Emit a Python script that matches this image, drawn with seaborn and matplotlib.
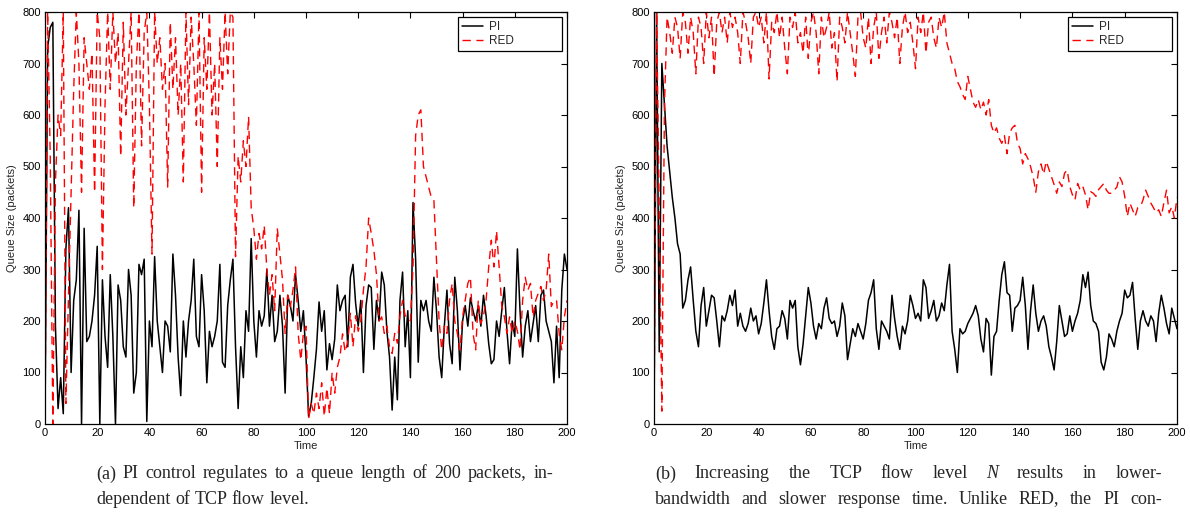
import numpy as np
import pandas as pd
import matplotlib
matplotlib.use("Agg")
import matplotlib.pyplot as plt
import seaborn as sns

# ---------------- data ----------------
time = list(range(0, 201))

pi_a = [0, 730, 770, 780, 190, 30, 90, 20, 340, 420,
        100, 240, 280, 415, 0, 380, 160, 170, 200, 250,
        345, 0, 280, 170, 110, 290, 170, 0, 270, 240,
        150, 130, 300, 250, 60, 100, 310, 290, 320, 5,
        200, 150, 325, 200, 150, 100, 200, 190, 140, 330,
        250, 130, 55, 200, 130, 200, 240, 320, 170, 150,
        290, 220, 80, 180, 150, 170, 200, 310, 120, 110,
        230, 280, 320, 150, 30, 150, 90, 220, 180, 360,
        200, 130, 220, 190, 210, 300, 190, 250, 160, 180,
        250, 190, 60, 250, 230, 200, 290, 240, 180, 220,
        130, 15, 40, 90, 145, 237, 180, 220, 105, 156,
        125, 165, 270, 220, 240, 250, 150, 285, 310, 235,
        190, 240, 100, 230, 270, 265, 145, 240, 200, 295,
        270, 180, 130, 27, 130, 47, 240, 295, 150, 220,
        90, 430, 320, 120, 240, 220, 240, 200, 180, 285,
        220, 130, 90, 190, 260, 156, 117, 285, 220, 105,
        200, 230, 190, 245, 220, 200, 230, 190, 250, 210,
        156, 117, 125, 200, 170, 220, 265, 180, 117, 200,
        170, 340, 220, 130, 190, 220, 160, 195, 230, 160,
        250, 260, 200, 180, 160, 80, 190, 90, 260, 330,
        300]

red_a = [0, 800, 520, 0, 470, 600, 560, 800, 40, 250,
         450, 650, 800, 700, 450, 750, 700, 650, 720, 450,
         800, 750, 300, 620, 800, 650, 800, 700, 760, 520,
         780, 600, 700, 800, 420, 700, 800, 540, 760, 800,
         620, 330, 800, 700, 750, 650, 700, 460, 780, 650,
         750, 600, 700, 470, 800, 620, 790, 700, 580, 800,
         450, 750, 650, 800, 600, 700, 500, 750, 650, 800,
         680, 800, 790, 325, 520, 470, 550, 500, 597, 420,
         380, 320, 370, 340, 385, 300, 250, 290, 220, 380,
         330, 280, 176, 250, 228, 260, 305, 176, 124, 176,
         190, 10, 40, 20, 60, 30, 80, 15, 70, 20,
         100, 60, 110, 130, 175, 140, 160, 215, 150, 210,
         180, 200, 260, 305, 400, 370, 338, 290, 200, 208,
         176, 190, 150, 137, 176, 157, 210, 240, 210, 208,
         200, 305, 560, 600, 610, 500, 480, 460, 440, 435,
         318, 200, 144, 190, 176, 240, 273, 200, 176, 144,
         208, 240, 273, 285, 176, 144, 240, 195, 210, 240,
         305, 357, 305, 375, 305, 230, 208, 176, 208, 176,
         200, 180, 144, 240, 285, 260, 273, 208, 240, 254,
         267, 240, 260, 330, 228, 240, 240, 176, 144, 208,
         240]

pi_b = [0, 800, 140, 700, 620, 540, 490, 440, 400, 350,
        330, 225, 240, 280, 305, 240, 180, 150, 230, 265,
        190, 220, 250, 245, 200, 150, 210, 200, 220, 250,
        230, 260, 190, 215, 190, 180, 195, 225, 200, 210,
        175, 195, 235, 280, 220, 170, 145, 185, 190, 220,
        205, 165, 240, 225, 240, 150, 115, 155, 210, 265,
        235, 190, 165, 195, 185, 225, 245, 205, 195, 200,
        170, 190, 235, 210, 125, 155, 185, 170, 195, 180,
        165, 195, 240, 255, 280, 185, 145, 200, 190, 180,
        165, 250, 205, 170, 145, 190, 175, 200, 250, 230,
        205, 215, 200, 280, 265, 205, 220, 240, 200, 210,
        235, 220, 270, 310, 180, 145, 100, 185, 175, 180,
        195, 205, 215, 230, 210, 165, 140, 205, 195, 95,
        170, 180, 240, 290, 315, 255, 250, 180, 225, 230,
        240, 285, 230, 145, 220, 270, 215, 180, 200, 210,
        190, 150, 130, 105, 160, 230, 200, 170, 175, 210,
        180, 200, 215, 240, 290, 265, 295, 230, 200, 195,
        180, 120, 105, 130, 175, 165, 150, 180, 200, 215,
        260, 245, 250, 275, 205, 145, 200, 220, 200, 190,
        210, 200, 160, 215, 250, 225, 195, 175, 225, 205,
        185]

red_b = [0, 800, 420, 25, 620, 790, 760, 720, 790, 770,
         710, 800, 780, 720, 790, 760, 680, 790, 770, 700,
         800, 750, 790, 675, 780, 800, 760, 790, 740, 800,
         770, 790, 760, 700, 800, 780, 750, 700, 790, 800,
         770, 790, 740, 800, 670, 780, 760, 800, 750, 790,
         730, 680, 790, 770, 800, 740, 760, 720, 790, 710,
         780, 800, 760, 680, 790, 750, 770, 800, 730, 760,
         665, 790, 770, 740, 800, 760, 720, 675, 790, 800,
         750, 730, 790, 700, 770, 800, 710, 760, 790, 740,
         800, 780, 750, 790, 700, 770, 800, 760, 780, 740,
         690, 790, 760, 800, 720, 780, 790, 750, 730, 790,
         770, 800, 740, 720, 700, 690, 665, 655, 640, 630,
         675, 650, 625, 615, 630, 610, 625, 600, 630, 580,
         565, 575, 555, 545, 560, 525, 565, 575, 580, 545,
         535, 505, 525, 515, 500, 480, 450, 490, 505, 485,
         510, 495, 480, 465, 448, 470, 461, 487, 493, 461,
         445, 435, 467, 454, 461, 445, 416, 451, 448, 442,
         455, 461, 467, 454, 448, 448, 454, 460, 480, 470,
         442, 403, 429, 416, 403, 420, 422, 435, 454, 442,
         429, 420, 410, 416, 403, 430, 454, 410, 422, 400,
         440]

x_ticks = [0, 20, 40, 60, 80, 100, 120, 140, 160, 180, 200]
y_ticks = [0, 100, 200, 300, 400, 500, 600, 700, 800]

caption_a = [["(a)", "PI", "control", "regulates", "to", "a", "queue", "length", "of", "200", "packets,", "in-"],
             ["dependent", "of", "TCP", "flow", "level."]]
caption_b = [["(b)", "Increasing", "the", "TCP", "flow", "level", "N", "results", "in", "lower-"],
             ["bandwidth", "and", "slower", "response", "time.", "Unlike", "RED,", "the", "PI", "con-"]]

# ---------------- plotting ----------------
sns.set_style("white")
plt.rcParams["font.family"] = ["Liberation Sans", "DejaVu Sans"]

fig = plt.figure(figsize=(11.9, 5.19), dpi=100)
ax_a = fig.add_axes([45 / 1190, 1 - 424 / 519, 522 / 1190, 412 / 519])
ax_b = fig.add_axes([654 / 1190, 1 - 424 / 519, 523 / 1190, 412 / 519])

for ax, pi, red in [(ax_a, pi_a, red_a), (ax_b, pi_b, red_b)]:
    df = pd.DataFrame({"Time": time, "PI": pi, "RED": red})
    sns.lineplot(data=df, x="Time", y="PI", ax=ax, color="black", linewidth=1.1,
                 label="PI", estimator=None, sort=False)
    sns.lineplot(data=df, x="Time", y="RED", ax=ax, color="#ff0000", linewidth=1.0,
                 linestyle=(0, (6, 4)), label="RED", estimator=None, sort=False)
    ax.set_xlim(0, 200)
    ax.set_ylim(0, 800)
    ax.set_xticks(x_ticks)
    ax.set_yticks(y_ticks)
    ax.tick_params(direction="in", top=True, right=True, length=4, width=0.8,
                   labelsize=8, pad=3, colors="black")
    for s in ax.spines.values():
        s.set_visible(True)
        s.set_color("black")
        s.set_linewidth(0.9)
    ax.set_xlabel("Time", fontsize=8, labelpad=2)
    ax.set_ylabel("Queue Size (packets)", fontsize=8, labelpad=4)
    leg = ax.legend(loc="upper left", bbox_to_anchor=(0.791, 0.917, 0.199, 0.071),
                    mode="expand", borderaxespad=0, fontsize=8.5, frameon=True,
                    fancybox=False, edgecolor="black", framealpha=1, borderpad=0.35,
                    handlelength=1.8, handletextpad=0.5, labelspacing=0.15)
    leg.get_frame().set_linewidth(0.9)

# ---------------- captions (justified) ----------------
fig.canvas.draw()
renderer = fig.canvas.get_renderer()
CAP_SIZE = 13


def place_line(words, x0, x1, y, justify=True, size=CAP_SIZE):
    texts, widths = [], []
    for w in words:
        style = "italic" if w == "N" else "normal"
        t = fig.text(0, y, w, fontsize=size, family=["Liberation Serif", "DejaVu Serif"],
                     style=style, va="center", ha="left")
        bb = t.get_window_extent(renderer)
        widths.append(bb.width / fig.bbox.width)
        texts.append(t)
    space = 0.25 * size * fig.dpi / 72 / fig.bbox.width
    if justify and len(words) > 1:
        gap = max((x1 - x0 - sum(widths)) / (len(words) - 1), 0.6 * space)
    else:
        gap = space
    x = x0
    for t, w in zip(texts, widths):
        t.set_x(x)
        x += w + gap


y1 = 1 - 474 / 519
y2 = 1 - 499 / 519
place_line(caption_a[0], 96 / 1190, 553 / 1190, y1)
place_line(caption_a[1], 96 / 1190, 553 / 1190, y2, justify=False)
place_line(caption_b[0], 655 / 1190, 1162 / 1190, y1)
place_line(caption_b[1], 655 / 1190, 1162 / 1190, y2)

fig.savefig("out.png", dpi=100)
